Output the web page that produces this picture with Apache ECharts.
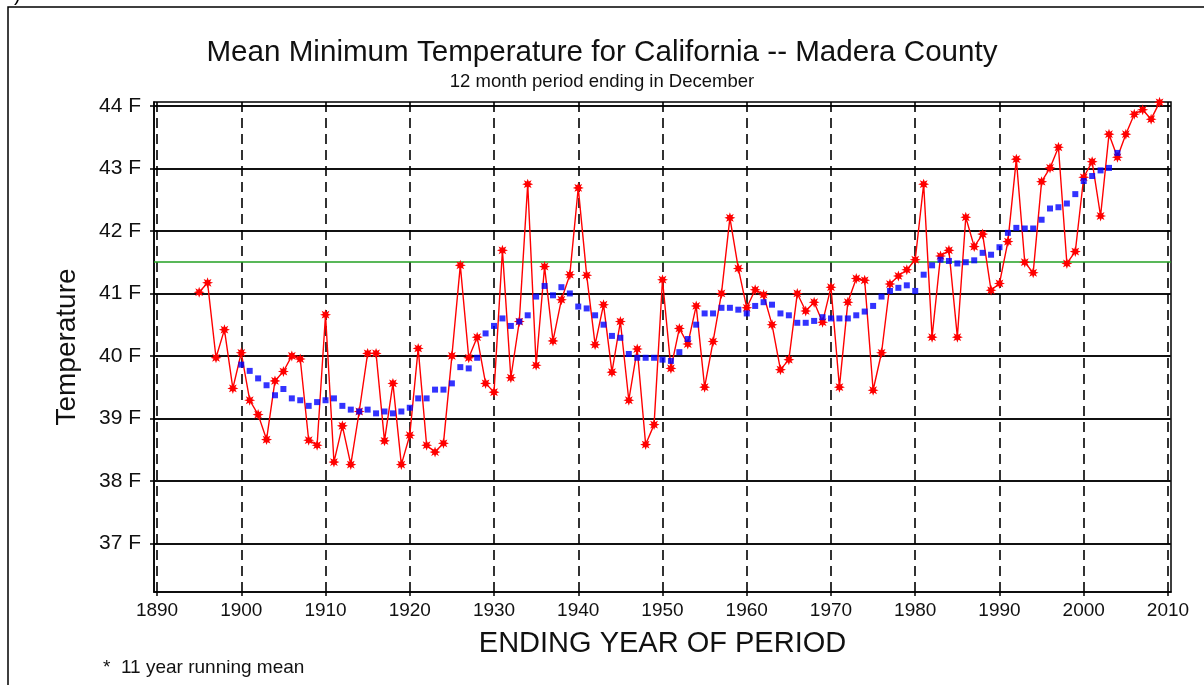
<!DOCTYPE html>
<html>
<head>
<meta charset="utf-8">
<script src="https://cdn.jsdelivr.net/npm/echarts@6/dist/echarts.min.js"></script>
<style>
  html, body { margin: 0; padding: 0; background: #fff; }
  #chart { width: 1204px; height: 685px; }
</style>
</head>
<body>
<div id="chart"></div>
<script>
// Annual mean minimum temperature (deg F), Madera County, years 1895..2009
const firstYear = 1895;
const annualMin = [
  41.02, 41.17, 39.97, 40.42, 39.48,
  40.05, 39.29, 39.06, 38.66, 39.60, 39.75, 40.00, 39.95, 38.65, 38.57,
  40.66, 38.30, 38.88, 38.26, 39.11, 40.04, 40.04, 38.64, 39.56, 38.26,
  38.73, 40.12, 38.57, 38.46, 38.60, 40.00, 41.45, 39.97, 40.30, 39.56,
  39.42, 41.69, 39.65, 40.55, 42.75, 39.85, 41.43, 40.24, 40.90, 41.30,
  42.69, 41.29, 40.18, 40.82, 39.74, 40.55, 39.29, 40.11, 38.58, 38.90,
  41.22, 39.80, 40.44, 40.19, 40.80, 39.50, 40.23, 41.00, 42.21, 41.40,
  40.77, 41.06, 40.98, 40.50, 39.78, 39.94, 41.00, 40.72, 40.86, 40.54,
  41.10, 39.50, 40.86, 41.24, 41.21, 39.45, 40.05, 41.15, 41.28, 41.38,
  41.54, 42.75, 40.30, 41.60, 41.69, 40.30, 42.22, 41.75, 41.95, 41.05,
  41.16, 41.83, 43.15, 41.50, 41.33, 42.79, 43.01, 43.34, 41.48, 41.67,
  42.86, 43.11, 42.24, 43.55, 43.18, 43.55, 43.87, 43.94, 43.79, 44.06
];

// 11 year running mean, centred years 1900..2004
const meanFirstYear = 1900;
const runningMean = [
  39.86, 39.76, 39.64, 39.53, 39.37, 39.47, 39.32, 39.29, 39.20, 39.26,
  39.29, 39.32, 39.20, 39.14, 39.11, 39.14, 39.08, 39.11, 39.08, 39.11,
  39.17, 39.32, 39.32, 39.46, 39.46, 39.56, 39.82, 39.80, 39.97, 40.36,
  40.48, 40.60, 40.48, 40.55, 40.65, 40.95, 41.12, 40.97, 41.10, 41.00,
  40.79, 40.76, 40.65, 40.50, 40.32, 40.29, 40.03, 39.97, 39.97, 39.97,
  39.94, 39.92, 40.06, 40.27, 40.50, 40.68, 40.68, 40.77, 40.77, 40.74,
  40.68, 40.80, 40.86, 40.82, 40.68, 40.65, 40.53, 40.53, 40.56, 40.62,
  40.60, 40.60, 40.60, 40.65, 40.71, 40.80, 40.95, 41.04, 41.09, 41.13,
  41.04, 41.30, 41.45, 41.54, 41.52, 41.48, 41.50, 41.53, 41.65, 41.62,
  41.74, 41.97, 42.05, 42.04, 42.04, 42.18, 42.36, 42.38, 42.44, 42.59,
  42.80, 42.88, 42.97, 43.01, 43.25
];

// Long-term average reference level
const longTermMean = 41.5;

// Axis ticks
const yearTicks = [1890, 1900, 1910, 1920, 1930, 1940, 1950, 1960, 1970, 1980, 1990, 2000, 2010];
const tempTicks = [37, 38, 39, 40, 41, 42, 43, 44];

const titleText = 'Mean Minimum Temperature for California -- Madera County';
const subtitleText = '12 month period ending in December';
const xAxisName = 'ENDING YEAR OF PERIOD';
const yAxisName = 'Temperature';
const noteText = '*  11 year running mean';

const annualPairs = annualMin.map((v, i) => [firstYear + i, v]);
const meanPairs = runningMean.map((v, i) => [meanFirstYear + i, v]);

// eight-spoked asterisk used for the yearly points
const asterisk = 'path://M20 10 L14.6 11.9 L17.07 17.07 L11.9 14.6 L10 20 L8.1 14.6 L2.93 17.07 L5.4 11.9 L0 10 L5.4 8.1 L2.93 2.93 L8.1 5.4 L10 0 L11.9 5.4 L17.07 2.93 L14.6 8.1 Z';

const FONT = '"Liberation Sans", Arial, sans-serif';

const chart = echarts.init(document.getElementById('chart'), null, { renderer: 'canvas' });

chart.setOption({
  animation: false,
  backgroundColor: '#fff',
  textStyle: { fontFamily: FONT },
  title: [
    {
      text: titleText, left: 'center', top: 33,
      textStyle: { fontFamily: FONT, fontSize: 29.6, fontWeight: 'normal', color: '#111' }
    },
    {
      text: subtitleText, left: 'center', top: 67,
      textStyle: { fontFamily: FONT, fontSize: 18.5, fontWeight: 'normal', color: '#111' }
    },
    {
      text: noteText, left: 98, top: 653,
      textStyle: { fontFamily: FONT, fontSize: 19, fontWeight: 'normal', color: '#111' }
    }
  ],
  graphic: [
    {
      type: 'rect', silent: true, z: -1,
      shape: { x: 8, y: 7, width: 1300, height: 800 },
      style: { fill: 'none', stroke: '#000', lineWidth: 1.5 }
    },
    {
      type: 'text', left: 14, top: -15,
      style: { text: ')', fontSize: 20, fontFamily: FONT, fill: '#000' }
    }
  ],
  grid: {
    left: 154, right: 33, top: 102, bottom: 93,
    show: true, borderColor: '#000', borderWidth: 1.5
  },
  xAxis: {
    type: 'value',
    min: 1889.64, max: 2010.36,
    name: xAxisName, nameLocation: 'middle', nameGap: 37,
    nameTextStyle: { fontFamily: FONT, fontSize: 29, color: '#111' },
    axisLine: { show: true, onZero: false, lineStyle: { color: '#000', width: 1.5 } },
    axisTick: { show: true, customValues: yearTicks, length: 4, lineStyle: { color: '#000', width: 1.5 } },
    axisLabel: {
      customValues: yearTicks, fontSize: 19, color: '#111', margin: 9, fontFamily: FONT,
      formatter: v => String(v)
    },
    splitLine: { show: true, lineStyle: { color: '#000', width: 1.6, type: [10, 6] } }
  },
  yAxis: {
    type: 'value',
    min: 36.22, max: 44.065,
    name: yAxisName, nameLocation: 'middle', nameGap: 73,
    nameTextStyle: { fontFamily: FONT, fontSize: 28, color: '#111' },
    axisLine: { show: true, onZero: false, lineStyle: { color: '#000', width: 1.5 } },
    axisTick: { show: true, customValues: tempTicks, length: 4, lineStyle: { color: '#000', width: 1.5 } },
    axisLabel: {
      customValues: tempTicks, fontSize: 21, color: '#111', margin: 13, fontFamily: FONT,
      padding: [9, 0, 0, 0],
      formatter: v => v + ' F'
    },
    splitLine: { show: true, lineStyle: { color: '#111', width: 2 } }
  },
  series: [
    {
      name: 'annual',
      type: 'line',
      data: annualPairs,
      symbol: asterisk,
      symbolSize: 11,
      showAllSymbol: true,
      lineStyle: { color: '#ff0000', width: 1.4 },
      itemStyle: { color: '#ff0000' },
      z: 3,
      markLine: {
        silent: true,
        symbol: 'none',
        label: { show: false },
        lineStyle: { color: '#22a022', width: 1.5, type: 'solid' },
        data: [{ yAxis: longTermMean }],
        z: 1
      }
    },
    {
      name: 'running mean',
      type: 'scatter',
      data: meanPairs,
      symbol: 'rect',
      symbolSize: 6,
      itemStyle: { color: '#0000ff' },
      z: 4
    }
  ]
});
</script>
</body>
</html>
